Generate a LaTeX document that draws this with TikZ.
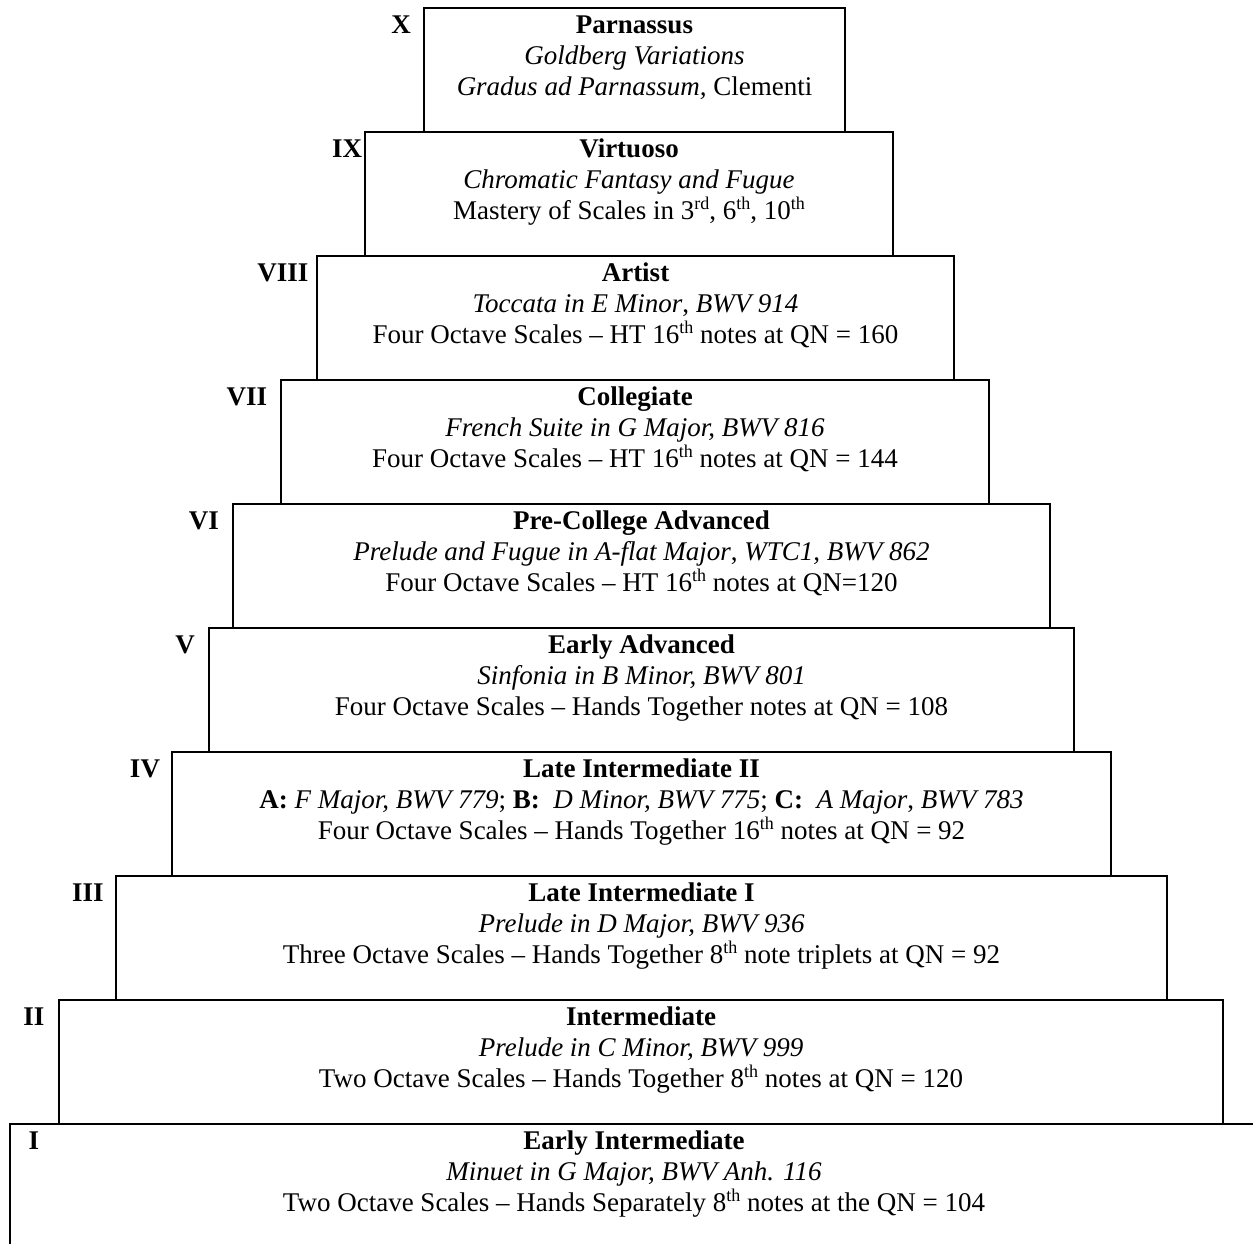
\documentclass[tikz,border=0pt]{standalone}
\usepackage{fontspec}
\setmainfont{Liberation Serif}
\newcommand\supx[1]{\raisebox{0.36em}{\fontsize{18}{18}\selectfont #1}}
\tikzset{
  tierbox/.style={draw, line width=2pt, anchor=north west, inner sep=0pt, outer sep=0pt},
  txt/.style={anchor=base, inner sep=0pt, font=\fontsize{27}{30}\selectfont},
  numeral/.style={anchor=base, inner sep=0pt, font=\fontsize{27}{30}\selectfont\bfseries},
}
% #1 name, #2 top, #3 left, #4 right, #5 numeral x, #6 numeral, #7 title, #8 line 2, #9 line 3
\newcommand\tier[9]{%
  \node[tierbox, minimum width={#4-#3}, minimum height=124] (box#1) at (#3,#2) {};
  \node[numeral] (num#1) at (#5,#2+25) {#6};
  \node[txt, font=\fontsize{27}{30}\selectfont\bfseries] (title#1) at ({(#3+#4)/2},#2+25) {#7};
  \node[txt] (work#1) at ({(#3+#4)/2},#2+56) {#8};
  \node[txt] (scale#1) at ({(#3+#4)/2},#2+87) {#9};
}
\begin{document}
\begin{tikzpicture}[x=1pt,y=-1pt]
\clip (0,0) rectangle (1253,1243);
\fill[white] (0,0) rectangle (1253,1243);
\tier{x}{8}{424}{845}{401}{X}{Parnassus}{\itshape Goldberg Variations}{\itshape Gradus ad Parnassum,\upshape{} Clementi}
\tier{ix}{132}{365}{893}{347}{IX}{Virtuoso}{\itshape Chromatic Fantasy and Fugue}{Mastery of Scales in 3\supx{rd}, 6\supx{th}, 10\supx{th}}
\tier{viii}{256}{317}{954}{283}{VIII}{Artist}{\textit{Toccata in E Minor}, \textit{BWV 914}}{Four Octave Scales -- HT 16\supx{th} notes at QN = 160}
\tier{vii}{380}{281}{989}{247}{VII}{Collegiate}{\itshape French Suite in G Major, BWV 816}{Four Octave Scales -- HT 16\supx{th} notes at QN = 144}
\tier{vi}{504}{233}{1050}{204}{VI}{Pre-College Advanced}{\textit{Prelude and Fugue in A-flat Major}, \textit{WTC1, BWV 862}}{Four Octave Scales -- HT 16\supx{th} notes at QN=120}
\tier{v}{628}{209}{1074}{185}{V}{Early Advanced}{\itshape Sinfonia in B Minor, BWV 801}{Four Octave Scales -- Hands Together notes at QN = 108}
\tier{iv}{752}{172}{1111}{145}{IV}{Late Intermediate II}{\textbf{A:} \textit{F Major, BWV 779}; \textbf{B:}\ \ \textit{D Minor, BWV 775}; \textbf{C:}\ \ \textit{A Major}, \textit{BWV 783}}{Four Octave Scales -- Hands Together 16\supx{th} notes at QN = 92}
\tier{iii}{876}{116}{1167}{88}{III}{Late Intermediate I}{\itshape Prelude in D Major, BWV 936}{Three Octave Scales -- Hands Together 8\supx{th} note triplets at QN = 92}
\tier{ii}{1000}{59}{1223}{34}{II}{Intermediate}{\itshape Prelude in C Minor, BWV 999}{Two Octave Scales -- Hands Together 8\supx{th} notes at QN = 120}
\tier{i}{1124}{10}{1258}{34}{I}{Early Intermediate}{\itshape Minuet in G Major, BWV Anh. 116}{Two Octave Scales -- Hands Separately 8\supx{th} notes at the QN = 104}
\end{tikzpicture}
\end{document}
